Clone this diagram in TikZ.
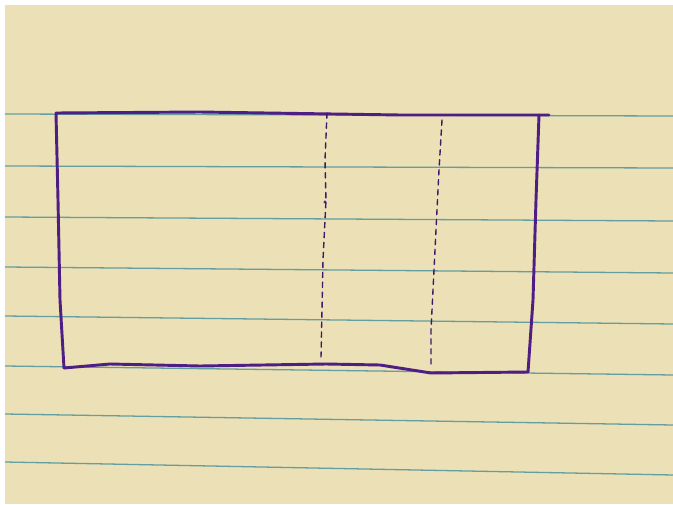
\documentclass[tikz,border=0pt]{standalone}
\usepackage{tikz}
\usetikzlibrary{calc}

\definecolor{paper}{RGB}{235,224,182}
\definecolor{rule}{RGB}{100,158,160}
\definecolor{ink}{RGB}{78,30,132}

\begin{document}
\begin{tikzpicture}[x=0.03cm,y=-0.03cm,
    ruleline/.style={rule, line width=1.1pt},
    inkline/.style={ink, line width=2.5pt, line cap=round, line join=round},
    dashline/.style={ink!80!black, line width=1.2pt, line cap=round, dash pattern=on 4.5pt off 4pt}]
    \useasboundingbox (0,0) rectangle (673,504);
    \fill [white] (0,0) rectangle (673,504);
    \fill [paper] (5,5) rectangle (673,504);

    % ruled lines of the pad
    \draw [ruleline] (5,114) -- (673,116);
    \draw [ruleline] (5,166) -- (673,168);
    \draw [ruleline] (5,217) -- (673,221);
    \draw [ruleline] (5,267) -- (673,273);
    \draw [ruleline] (5,316) -- (673,324);
    \draw [ruleline] (5,366) -- (673,375);
    \draw [ruleline] (5,414) -- (673,425);
    \draw [ruleline] (5,462) -- (673,475);

    % corners of the outline
    \coordinate (A) at (56,113);
    \coordinate (B) at (539,115);
    \coordinate (C) at (528,372);
    \coordinate (D) at (64,368);

    \draw [inkline] (A) -- (200,112) -- (400,115) -- (B) -- (549,115);
    \draw [inkline] (A) -- (58,200) -- (60,300) -- (D);
    \draw [inkline] (B) -- (536,200) -- (533,300) -- (C);
    \draw [inkline] (D) -- (110,364) -- (200,366) -- (326,364) -- (380,365)
        -- (431,373) -- (C);

    % the two dashed folds
    \draw [dashline] (327,113) -- (325,160) -- (326,200) -- (323,260)
        -- (322,310) -- (321,357);
    \fill [ink] (325,202) circle (1.6);
    \draw [dashline] (442,120) -- (439,170) -- (436,230) -- (433,290)
        -- (431,330) -- (431,367);
\end{tikzpicture}
\end{document}
